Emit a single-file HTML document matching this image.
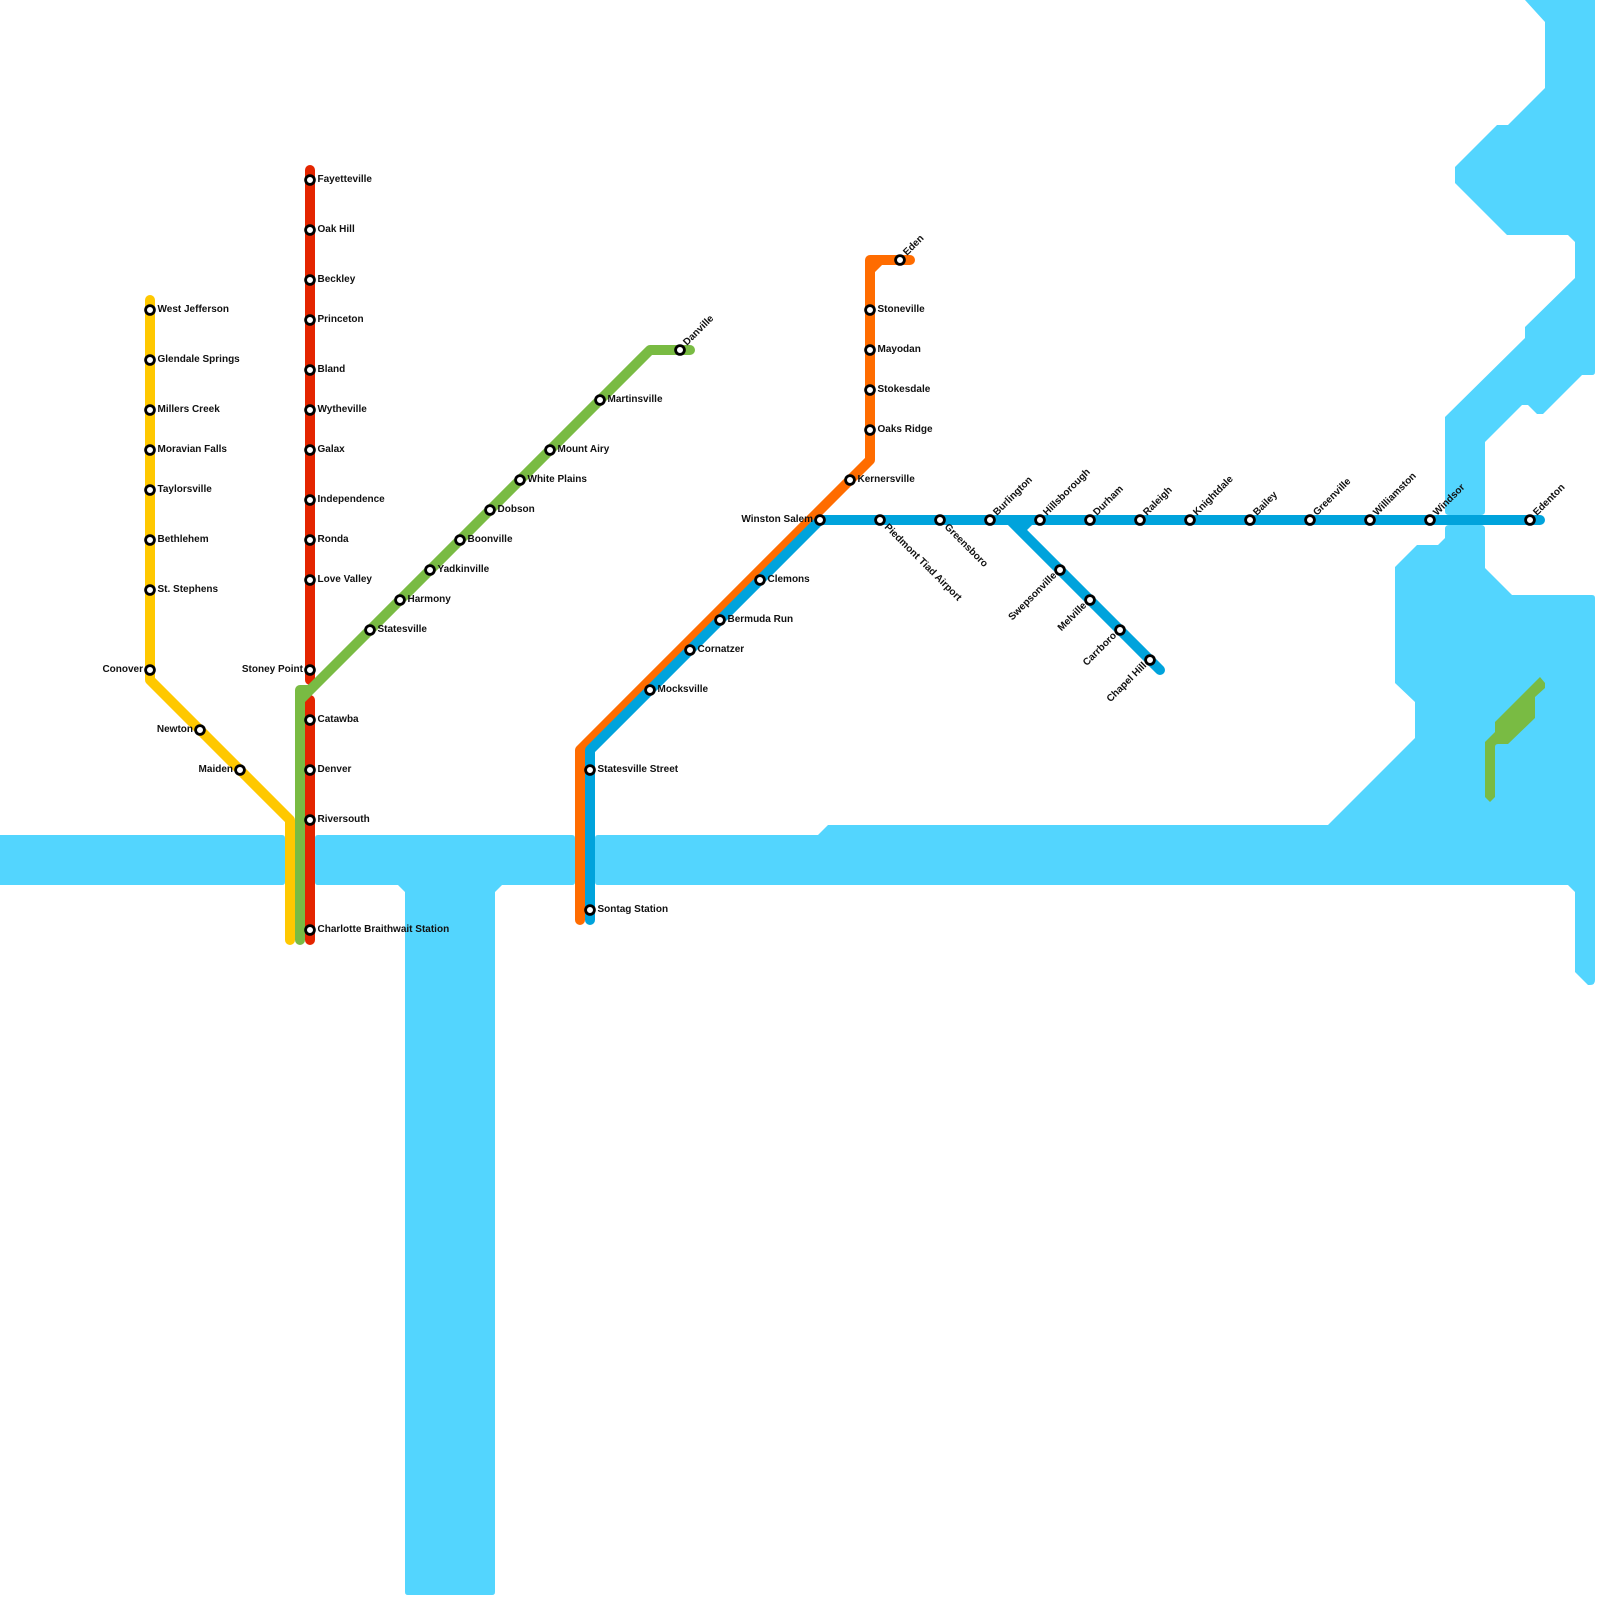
<!DOCTYPE html>
<html><head><meta charset="utf-8"><title>Transit map</title>
<style>
html,body{margin:0;padding:0;background:#fff;width:1600px;height:1600px;overflow:hidden}
svg{display:block}
text{font-family:"Liberation Sans",Arial,sans-serif;font-size:10px;font-weight:bold;fill:#111}
.l{fill:none;stroke-width:10;stroke-linecap:round;stroke-linejoin:round}
.s circle{fill:#fff;stroke:#000;stroke-width:2.8;r:4.4px}
.e{text-anchor:end}
</style></head><body>
<svg width="1600" height="1600" viewBox="0 0 1600 1600" xmlns="http://www.w3.org/2000/svg">
<g fill="#53d5fe">
<path d="M-5,835H282Q285,835 285,838V882Q285,885 282,885H-5Z"/>
<path d="M318,835H572Q575,835 575,838V882Q575,885 572,885H502L495,892V1592Q495,1595 492,1595H408Q405,1595 405,1592V892L398,885H318Q315,885 315,882V838Q315,835 318,835Z"/>
<path d="M598,835H818L828,825H1328L1415,738V702L1395,683V567L1417,545H1438L1445,538V529Q1445,525 1449,525H1481Q1485,525 1485,529V568L1512,595H1592Q1595,595 1595,598V980Q1595,985 1590,985H1588L1575,972V892L1568,885H598Q595,885 595,882V838Q595,835 598,835Z"/>
<path d="M1525,0H1595V372Q1595,375 1592,375H1582L1543,414H1537L1528,405H1522L1485,442V511Q1485,515 1481,515H1449Q1445,515 1445,511V417L1525,338V327L1575,278V242L1568,235H1507L1455,183V167L1497,125H1508L1545,88V22Z"/>
</g>
<path fill="#79bb43" d="M1490,802L1485,797V742L1495,732V722L1540,677L1545,683V688L1535,697V718L1508,744H1498Q1495,744 1495,747V797Z"/>
<path class="l" stroke="#e42500" d="M310,170V680M310,700V940"/>
<path class="l" stroke="#ffc800" d="M150,300V680L290,820V940"/>
<path class="l" stroke="#79bb43" d="M300,940V690H310L650,350H690M300,700L310,690"/>
<path class="l" stroke="#ff6c00" d="M580,920V750L870,460V260H910M870,270L880,260"/>
<path class="l" stroke="#00a3dc" d="M590,920V750L820,520H1540M1010,520L1160,670M1020,530L1030,520"/>
<g class="s">
<circle cx="150" cy="310"/><circle cx="150" cy="360"/><circle cx="150" cy="410"/><circle cx="150" cy="450"/><circle cx="150" cy="490"/><circle cx="150" cy="540"/><circle cx="150" cy="590"/><circle cx="150" cy="670"/><circle cx="200" cy="730"/><circle cx="240" cy="770"/>
<circle cx="310" cy="180"/><circle cx="310" cy="230"/><circle cx="310" cy="280"/><circle cx="310" cy="320"/><circle cx="310" cy="370"/><circle cx="310" cy="410"/><circle cx="310" cy="450"/><circle cx="310" cy="500"/><circle cx="310" cy="540"/><circle cx="310" cy="580"/><circle cx="310" cy="670"/><circle cx="310" cy="720"/><circle cx="310" cy="770"/><circle cx="310" cy="820"/><circle cx="310" cy="930"/>
<circle cx="370" cy="630"/><circle cx="400" cy="600"/><circle cx="430" cy="570"/><circle cx="460" cy="540"/><circle cx="490" cy="510"/><circle cx="520" cy="480"/><circle cx="550" cy="450"/><circle cx="600" cy="400"/><circle cx="680" cy="350"/>
<circle cx="590" cy="770"/><circle cx="590" cy="910"/><circle cx="650" cy="690"/><circle cx="690" cy="650"/><circle cx="720" cy="620"/><circle cx="760" cy="580"/><circle cx="820" cy="520"/>
<circle cx="850" cy="480"/><circle cx="870" cy="430"/><circle cx="870" cy="390"/><circle cx="870" cy="350"/><circle cx="870" cy="310"/><circle cx="900" cy="260"/>
<circle cx="880" cy="520"/><circle cx="940" cy="520"/><circle cx="990" cy="520"/><circle cx="1040" cy="520"/><circle cx="1090" cy="520"/><circle cx="1140" cy="520"/><circle cx="1190" cy="520"/><circle cx="1250" cy="520"/><circle cx="1310" cy="520"/><circle cx="1370" cy="520"/><circle cx="1430" cy="520"/><circle cx="1530" cy="520"/>
<circle cx="1060" cy="570"/><circle cx="1090" cy="600"/><circle cx="1120" cy="630"/><circle cx="1150" cy="660"/>
</g>
<g>
<text x="157.500" y="312">West Jefferson</text><text x="157.500" y="362">Glendale Springs</text><text x="157.500" y="412">Millers Creek</text><text x="157.500" y="452">Moravian Falls</text><text x="157.500" y="492">Taylorsville</text><text x="157.500" y="542">Bethlehem</text><text x="157.500" y="592">St. Stephens</text>
<text class="e" x="143" y="672">Conover</text><text class="e" x="193" y="732">Newton</text><text class="e" x="233" y="772">Maiden</text>
<text x="317.500" y="182">Fayetteville</text><text x="317.500" y="232">Oak Hill</text><text x="317.500" y="282">Beckley</text><text x="317.500" y="322">Princeton</text><text x="317.500" y="372">Bland</text><text x="317.500" y="412">Wytheville</text><text x="317.500" y="452">Galax</text><text x="317.500" y="502">Independence</text><text x="317.500" y="542">Ronda</text><text x="317.500" y="582">Love Valley</text>
<text class="e" x="303" y="672">Stoney Point</text>
<text x="317.500" y="722">Catawba</text><text x="317.500" y="772">Denver</text><text x="317.500" y="822">Riversouth</text><text x="317.500" y="932">Charlotte Braithwait Station</text>
<text x="377.500" y="632">Statesville</text><text x="407.500" y="602">Harmony</text><text x="437.500" y="572">Yadkinville</text><text x="467.500" y="542">Boonville</text><text x="497.500" y="512">Dobson</text><text x="527.500" y="482">White Plains</text><text x="557.500" y="452">Mount Airy</text><text x="607.500" y="402">Martinsville</text>
<text x="597.500" y="772">Statesville Street</text><text x="597.500" y="912">Sontag Station</text><text x="657.500" y="692">Mocksville</text><text x="697.500" y="652">Cornatzer</text><text x="727.500" y="622">Bermuda Run</text><text x="767.500" y="582">Clemons</text>
<text class="e" x="813" y="522">Winston Salem</text>
<text x="857.500" y="482">Kernersville</text><text x="877.500" y="432">Oaks Ridge</text><text x="877.500" y="392">Stokesdale</text><text x="877.500" y="352">Mayodan</text><text x="877.500" y="312">Stoneville</text>
<text transform="translate(687,346) rotate(-45)">Danville</text>
<text transform="translate(907,256) rotate(-45)">Eden</text>
<text transform="translate(884,527.500) rotate(45)">Piedmont Tiad Airport</text>
<text transform="translate(944,527.500) rotate(45)">Greensboro</text>
<text transform="translate(997,516) rotate(-45)">Burlington</text>
<text transform="translate(1047,516) rotate(-45)">Hillsborough</text>
<text transform="translate(1097,516) rotate(-45)">Durham</text>
<text transform="translate(1147,516) rotate(-45)">Raleigh</text>
<text transform="translate(1197,516) rotate(-45)">Knightdale</text>
<text transform="translate(1257,516) rotate(-45)">Bailey</text>
<text transform="translate(1317,516) rotate(-45)">Greenville</text>
<text transform="translate(1377,516) rotate(-45)">Williamston</text>
<text transform="translate(1437,516) rotate(-45)">Windsor</text>
<text transform="translate(1537,516) rotate(-45)">Edenton</text>
<text class="e" transform="translate(1057,576) rotate(-45)">Swepsonville</text>
<text class="e" transform="translate(1087,606) rotate(-45)">Melville</text>
<text class="e" transform="translate(1117,636) rotate(-45)">Carrboro</text>
<text class="e" transform="translate(1147,666) rotate(-45)">Chapel Hill</text>
</g>
</svg>
</body></html>
